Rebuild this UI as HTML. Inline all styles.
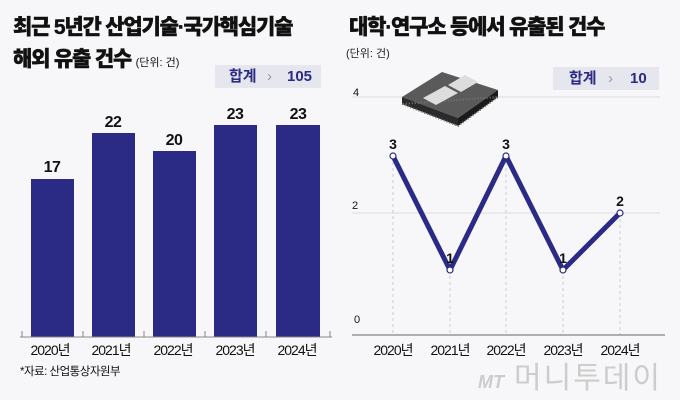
<!DOCTYPE html><html><head><meta charset="utf-8"><style>
body{margin:0;width:680px;height:400px;background:#f7f7f9;font-family:"Liberation Sans","Noto Sans CJK KR",sans-serif;overflow:hidden;position:relative}
.t{position:absolute;font-weight:900;color:#111;font-size:21px;letter-spacing:-1.2px;-webkit-text-stroke:0.4px #111}
.s{position:absolute;font-size:11px;color:#222}
.box{position:absolute;background:#e6e6ee;height:23px;font-size:15px;color:#2b2a84;font-weight:bold;line-height:23px}
</style></head><body>
<div class="t" style="left:13px;top:11px">최근 5년간 산업기술·국가핵심기술</div>
<div class="t" style="left:13px;top:43px">해외 유출 건수 <span style="font-size:11px;font-weight:normal;letter-spacing:0;-webkit-text-stroke:0">(단위: 건)</span></div>
<div class="t" style="left:349px;top:11px">대학·연구소 등에서 유출된 건수</div>
<div class="s" style="left:346px;top:45px">(단위: 건)</div>
<div class="box" style="left:215px;top:65px;width:106px"><span style="position:absolute;left:14px">합계</span><span style="position:absolute;left:52px;color:#999;font-weight:normal">›</span><span style="position:absolute;left:72px">105</span></div>
<div class="box" style="left:553px;top:67px;width:106px"><span style="position:absolute;left:16px">합계</span><span style="position:absolute;left:55px;color:#999;font-weight:normal">›</span><span style="position:absolute;left:77px">10</span></div>
<svg width="680" height="400" style="position:absolute;left:0;top:0" font-family="Liberation Sans, Noto Sans CJK KR, sans-serif">
<g fill="#2b2a84">
<rect x="31" y="179" width="43" height="158"/><rect x="92" y="133" width="43" height="204"/><rect x="153" y="151" width="43" height="186"/><rect x="214" y="125" width="43" height="212"/><rect x="276" y="125" width="44" height="212"/></g>
<line x1="20" y1="337" x2="332" y2="337" stroke="#888"/>
<g stroke="#888"><line x1="22" y1="331" x2="22" y2="337"/><line x1="83" y1="331" x2="83" y2="337"/><line x1="144" y1="331" x2="144" y2="337"/><line x1="205" y1="331" x2="205" y2="337"/><line x1="266" y1="331" x2="266" y2="337"/><line x1="330" y1="331" x2="330" y2="337"/></g>
<g font-size="16" font-weight="bold" text-anchor="middle" fill="#111" letter-spacing="-0.5">
<text x="52" y="172">17</text><text x="113" y="127">22</text><text x="174" y="145">20</text><text x="235" y="119">23</text><text x="298" y="119">23</text></g>
<g font-size="14" text-anchor="middle" fill="#111" letter-spacing="-1">
<text x="50" y="355">2020년</text><text x="111" y="355">2021년</text><text x="173" y="355">2022년</text><text x="235" y="355">2023년</text><text x="297" y="355">2024년</text>
<text x="393" y="355">2020년</text><text x="450" y="355">2021년</text><text x="506" y="355">2022년</text><text x="563" y="355">2023년</text><text x="620" y="355">2024년</text></g>
<text x="20" y="375" font-size="11.5" fill="#111" letter-spacing="-0.5">*자료: 산업통상자원부</text>
<g stroke="#ddd"><line x1="352" y1="97" x2="660" y2="97"/><line x1="352" y1="213" x2="660" y2="213"/></g>
<g stroke="#ccc" stroke-dasharray="3,3"><line x1="393" y1="156" x2="393" y2="335"/><line x1="450" y1="270" x2="450" y2="335"/><line x1="506" y1="156" x2="506" y2="335"/><line x1="563" y1="270" x2="563" y2="335"/><line x1="620" y1="213" x2="620" y2="335"/></g>
<line x1="352" y1="335" x2="665" y2="335" stroke="#666"/>
<g font-size="11" fill="#111"><text x="353" y="96">4</text><text x="352" y="209">2</text><text x="354" y="323">0</text></g>
<polyline points="393,156 450,270 506,156 563,270 620,213" fill="none" stroke="#2b2a84" stroke-width="5" stroke-linejoin="round"/>
<g fill="#fff" stroke="#2b2a84" stroke-width="1.2"><circle cx="393" cy="156" r="3"/><circle cx="450" cy="270" r="3"/><circle cx="506" cy="156" r="3"/><circle cx="563" cy="270" r="3"/><circle cx="620" cy="213" r="3"/></g>
<g font-size="14" font-weight="bold" fill="#111" text-anchor="middle"><text x="393" y="149">3</text><text x="450" y="263">1</text><text x="506" y="149">3</text><text x="563" y="263">1</text><text x="620" y="206">2</text></g>
<g>
<polygon points="402,97 442,72 498,90 458,118" fill="#5a5a5a"/>
<polygon points="402,97 458,118 458,126 402,104" fill="#2a2a2a"/><polygon points="458,118 498,90 498,97 458,126" fill="#1a1a1a"/>
<polygon points="402,104 458,126 498,97" fill="none" stroke="#777" stroke-width="2" stroke-dasharray="1,2"/>
<polygon points="423,98 445,86 458,93 436,105" fill="#ddd"/><polygon points="448,85 465,75 478,82 461,92" fill="#ddd"/>
</g>
<text x="662" y="388" font-size="30" fill="#ccc" text-anchor="end" letter-spacing="2">머니투데이</text>
<text x="478" y="388" font-size="18" fill="#ccc" font-style="italic" font-weight="bold">MT</text>
</svg>
</body></html>
